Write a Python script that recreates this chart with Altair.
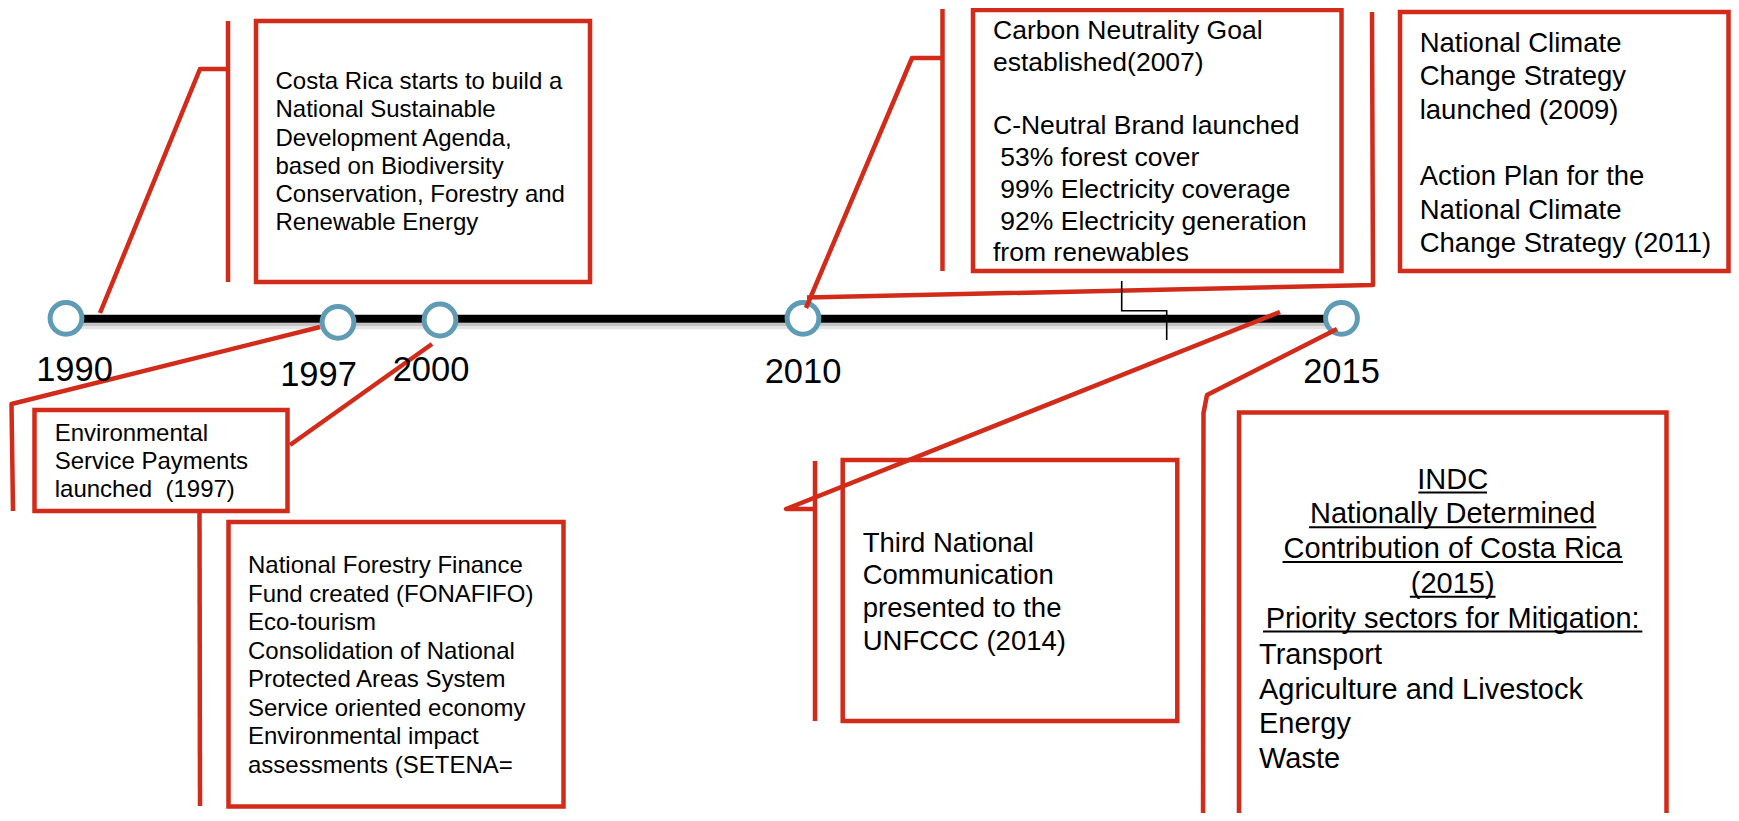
import altair as alt
import pandas as pd

# ---------------- data ----------------
years = ["1990", "1997", "2000", "2010", "2015"]

box1_lines = ["Costa Rica starts to build a", "National Sustainable", "Development Agenda,",
              "based on Biodiversity", "Conservation, Forestry and", "Renewable Energy"]
box2_lines = ["Environmental", "Service Payments", "launched\u00a0 (1997)"]
box3_lines = ["National Forestry Finance", "Fund created (FONAFIFO)", "Eco-tourism",
              "Consolidation of National", "Protected Areas System", "Service oriented economy",
              "Environmental impact", "assessments (SETENA="]
box4_lines = ["Carbon Neutrality Goal", "established(2007)", "", "C-Neutral Brand launched",
              " 53% forest cover", " 99% Electricity coverage",
              " 92% Electricity generation", "from renewables"]
box5_lines = ["National Climate", "Change Strategy", "launched (2009)", "",
              "Action Plan for the", "National Climate", "Change Strategy (2011)"]
box6_lines = ["Third National", "Communication", "presented to the", "UNFCCC (2014)"]
box7_title = ["INDC", "Nationally Determined", "Contribution of Costa Rica", "(2015)",
              "Priority sectors for Mitigation:"]
box7_items = ["Transport", "Agriculture and Livestock", "Energy", "Waste"]

# ---------------- layout (diagram geometry, page pixels) ----------------
RED = "#D32B1A"
BLUE = "#5F9BB4"
FONT = "Liberation Sans"
SPACE_EM = 0.278  # width of a space in Arial-metric fonts

year_x = [66, 338, 440, 803, 1341.5]
year_y = [318.3, 322.3, 320, 318.3, 318.3]
label_x = [74.5, 318.5, 431, 803, 1341.5]
label_y = [381, 386, 381, 383, 383]

boxes = [(256, 21, 590, 282), (34.5, 410, 287.5, 511), (228.5, 522, 563.5, 806.5),
         (973, 10, 1341.5, 271), (1400, 12, 1728.5, 271), (842.7, 460, 1177.3, 721),
         (1239, 412.5, 1666.5, 840)]

# (lines, x, first baseline, line step, font size, align)
blocks = [
    (box1_lines, 275.5, 89.3, 28.1, 24, "left"),
    (box2_lines, 54.7, 441, 27.8, 24, "left"),
    (box3_lines, 248, 573.3, 28.5, 24, "left"),
    (box4_lines, 993, 39.3, 31.7, 26.5, "left"),
    (box5_lines, 1419.7, 51.7, 33.4, 27.5, "left"),
    (box6_lines, 862.7, 551.7, 32.6, 27.5, "left"),
    (box7_title, 1452.7, 488.5, 34.75, 29, "center"),
    (box7_items, 1259, 664, 34.6, 29, "left"),
]
underline_w = [68.7, 287.3, 340.3, 85.7, 379.3]

red_paths = {
    "a": [(100, 313), (200, 69), (228, 69)],
    "a_bar": [(228, 21), (228, 282)],
    "b": [(320, 327), (11.5, 404), (13, 511)],
    "c": [(432, 344), (290, 445)],
    "d_bar": [(199.5, 511), (200, 806)],
    "e": [(806, 308), (912, 58), (942.5, 58)],
    "e_bar": [(942.5, 9), (942.5, 271)],
    "f": [(807, 297.5), (1373, 285), (1372, 12)],
    "g": [(1280, 312), (786, 509), (813, 509)],
    "g_bar": [(815, 461), (815, 721)],
    "h": [(1337, 329), (1207, 395), (1203.5, 413), (1203, 840)],
}
black_path = [(1121.7, 281), (1121.7, 310.7), (1166.7, 310.7), (1166.7, 340)]

# ---------------- tables ----------------
xs = alt.Scale(domain=[8, 1731], nice=False, zero=False)
ys = alt.Scale(domain=[8, 813], nice=False, zero=False, reverse=True)
X = lambda f: alt.X(f, scale=xs, axis=None)
Y = lambda f: alt.Y(f, scale=ys, axis=None)

years_df = pd.DataFrame({"year": years, "x": year_x, "y": year_y, "lx": label_x, "ly": label_y})
box_df = pd.DataFrame(boxes, columns=["x0", "y0", "x1", "y1"])

text_rows = []
for lines, x, y0, step, size, align in blocks:
    for i, t in enumerate(lines):
        s = t.lstrip(" ")
        if s:
            indent = (len(t) - len(s)) * SPACE_EM * size
            text_rows.append({"text": s, "x": x + indent, "y": y0 + i * step,
                              "size": size, "align": align})
text_df = pd.DataFrame(text_rows)

ul_rows = []
tb = blocks[6]
for i, w in enumerate(underline_w):
    yb = tb[2] + i * tb[3] + 4
    ul_rows.append({"x": tb[1] - w / 2, "x2": tb[1] + w / 2, "y": yb})
ul_df = pd.DataFrame(ul_rows)

line_rows = []
for k, pts in red_paths.items():
    for i, (px, py) in enumerate(pts):
        line_rows.append({"path": k, "i": i, "x": px, "y": py})
red_df = pd.DataFrame(line_rows)
black_df = pd.DataFrame([{"i": i, "x": px, "y": py} for i, (px, py) in enumerate(black_path)])

axis_df = pd.DataFrame({"x": [year_x[0]], "x2": [year_x[-1]], "y": [318.8]})

# ---------------- layers ----------------
shadow1 = alt.Chart(axis_df).mark_rule(color="#c4c4c4", strokeWidth=3.5).encode(
    x=X("x:Q"), x2="x2", y=Y("y:Q")).transform_calculate(y="datum.y + 6")
shadow2 = alt.Chart(axis_df).mark_rule(color="#e4e4e4", strokeWidth=3).encode(
    x=X("x:Q"), x2="x2", y=Y("y:Q")).transform_calculate(y="datum.y + 9")
timeline = alt.Chart(axis_df).mark_rule(color="black", strokeWidth=8).encode(
    x=X("x:Q"), x2="x2", y=Y("y:Q"))

circles = alt.Chart(years_df).mark_point(
    shape="circle", filled=True, fill="white", stroke=BLUE, strokeWidth=5, size=1010, opacity=1
).encode(x=X("x:Q"), y=Y("y:Q"))

year_labels = alt.Chart(years_df).mark_text(
    font=FONT, fontSize=34.5, align="center", baseline="alphabetic", color="black"
).encode(x=X("lx:Q"), y=Y("ly:Q"), text="year:N")

rects = alt.Chart(box_df).mark_rect(
    fill="white", fillOpacity=0, stroke=RED, strokeWidth=4.5
).encode(x=X("x0:Q"), x2="x1", y=Y("y0:Q"), y2="y1")

red_lines = alt.Chart(red_df).mark_line(
    color=RED, strokeWidth=4.5, strokeJoin="round"
).encode(x=X("x:Q"), y=Y("y:Q"), detail="path:N", order="i:Q")

black_line = alt.Chart(black_df).mark_line(color="black", strokeWidth=1.6).encode(
    x=X("x:Q"), y=Y("y:Q"), order="i:Q")

text_left = alt.Chart(text_df).transform_filter("datum.align == 'left'").mark_text(
    font=FONT, align="left", baseline="alphabetic", color="black"
).encode(x=X("x:Q"), y=Y("y:Q"), text="text:N", size=alt.Size("size:Q", scale=None))

text_center = alt.Chart(text_df).transform_filter("datum.align == 'center'").mark_text(
    font=FONT, align="center", baseline="alphabetic", color="black"
).encode(x=X("x:Q"), y=Y("y:Q"), text="text:N", size=alt.Size("size:Q", scale=None))

underlines = alt.Chart(ul_df).mark_rule(color="black", strokeWidth=2).encode(
    x=X("x:Q"), x2="x2", y=Y("y:Q"))

chart = alt.layer(
    shadow1, shadow2, timeline, circles, rects, red_lines, black_line,
    year_labels, text_left, text_center, underlines
).properties(
    width=1723, height=805, padding=0,
    autosize=alt.AutoSizeParams(type="none"),
    background="white",
).configure_view(strokeWidth=0)

chart.save("out.html", embed_options={"renderer": "svg", "actions": False})
